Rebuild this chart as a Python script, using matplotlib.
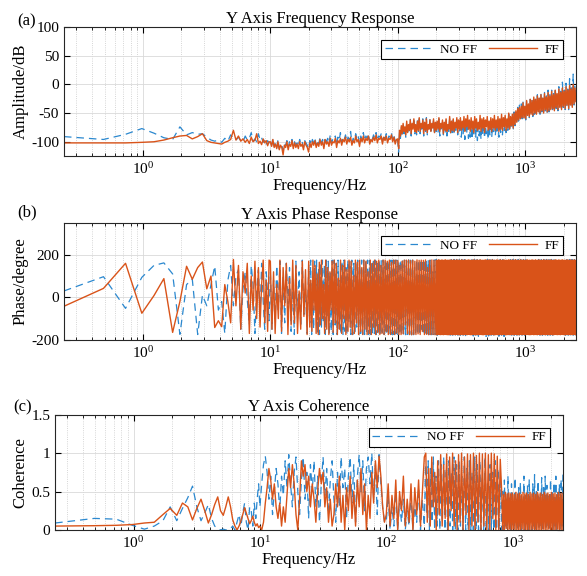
import numpy as np
import matplotlib
matplotlib.use('Agg')
import matplotlib.pyplot as plt

plt.rcParams['font.family'] = ['Liberation Serif', 'DejaVu Serif']
plt.rcParams['mathtext.fontset'] = 'custom'
plt.rcParams['mathtext.rm'] = 'Liberation Serif'
plt.rcParams['mathtext.it'] = 'Liberation Serif:italic'
plt.rcParams['axes.unicode_minus'] = False

# ── Data ─────────────────────────────────────────────────────────────────
# first 40 FFT bins, then denser bands whose values are spread log-evenly
freq_low = [0.24, 0.49, 0.73, 0.98, 1.22, 1.46, 1.71, 1.95, 2.2, 2.44,
            2.69, 2.93, 3.17, 3.42, 3.66, 3.91, 4.15, 4.39, 4.64, 4.88,
            5.13, 5.37, 5.62, 5.86, 6.1, 6.35, 6.59, 6.84, 7.08, 7.32,
            7.57, 7.81, 8.06, 8.3, 8.54, 8.79, 9.03, 9.28, 9.52, 9.77]
band_10_20 = (10, 20)
band_10_100 = (10, 100)
band_20_200 = (20, 200)
band_100_200 = (100, 200)
band_100_2500 = (100, 2500)
band_200_820 = (200, 820)
band_200_2500 = (200, 2500)
band_820_2500 = (820, 2500)

# (a) amplitude, dB
amp_noff_low = [-91, -96, -87, -77, -85, -93, -96, -74, -88, -84,
                -87, -86, -92, -97, -99, -97, -101, -94, -99, -88,
                -94, -97, -92, -98, -100, -90, -97, -94, -84, -99,
                -95, -100, -86, -97, -93, -101, -96, -104, -98, -102]
amp_ff_low = [-102, -102, -102, -101, -100, -97, -93, -90, -89, -95,
              -91, -86, -98, -101, -102, -103, -104, -101, -99, -96,
              -80, -97, -90, -99, -95, -101, -96, -103, -92, -100,
              -97, -86, -103, -99, -105, -95, -102, -98, -107, -100]
amp_noff_mid = [-98, -106, -94, -108, -102, -110, -96, -112, -104, -106,
                -116, -104, -106, -98, -110, -100, -104, -96, -108, -100,
                -106, -102, -108, -96, -104, -100, -110, -98, -102, -106,
                -112, -98, -106, -96, -102, -94, -106, -98, -104, -92,
                -102, -96, -108, -92, -100, -94, -104, -88, -102, -96,
                -98, -90, -106, -92, -98, -84, -102, -92, -96, -88,
                -100, -92, -96, -82, -102, -94, -98, -86, -96, -90,
                -104, -90, -96, -84, -98, -90, -94, -86, -100, -92,
                -96, -88, -94, -84, -98, -90, -92, -86, -100, -88,
                -94, -86, -98, -90, -92, -84, -96, -88, -100, -92]
amp_ff_mid = [-100, -108, -96, -110, -104, -112, -100, -114, -106, -110,
              -123, -106, -110, -100, -114, -104, -108, -98, -112, -102,
              -110, -104, -112, -100, -108, -104, -114, -100, -106, -110,
              -118, -102, -110, -100, -106, -98, -110, -102, -108, -96,
              -106, -100, -112, -96, -104, -100, -108, -94, -106, -100,
              -102, -94, -110, -98, -102, -94, -106, -96, -100, -92,
              -104, -96, -100, -92, -106, -98, -102, -90, -100, -96,
              -108, -94, -100, -90, -102, -94, -98, -90, -104, -96,
              -100, -92, -98, -88, -102, -94, -96, -90, -104, -92,
              -98, -90, -102, -94, -96, -88, -100, -92, -104, -96]
amp_noff_high = [-100, -118, -84, -94, -74, -90, -70, -86, -76, -92,
                 -66, -88, -72, -82, -60, -90, -70, -80, -58, -86,
                 -72, -88, -62, -82, -56, -86, -70, -78, -60, -90,
                 -68, -82, -58, -88, -72, -80, -60, -86, -70, -78,
                 -62, -88, -68, -82, -66, -84, -60, -90, -72, -82,
                 -66, -88, -70, -84, -62, -90, -72, -82, -60, -88,
                 -68, -84, -62, -88, -70, -80, -60, -88, -66, -82,
                 -64, -92, -70, -88, -66, -96, -74, -86, -64, -94,
                 -70, -92, -68, -96, -72, -88, -66, -94, -70, -98,
                 -74, -90, -66, -96, -70, -88, -68, -94, -72, -86,
                 -66, -96, -72, -88, -64, -92, -70, -84, -62, -90,
                 -68, -86, -60, -92, -66, -84, -58, -88, -64, -82,
                 -58, -84, -62, -80, -52, -82, -58, -76, -54, -80,
                 -48, -72, -44, -68, -40, -64, -36, -62, -34, -60,
                 -30, -60, -38, -62, -28, -56, -34, -58, -26, -54,
                 -28, -56, -22, -52, -26, -54, -18, -50, -24, -52,
                 -16, -48, -24, -52, -14, -46, -20, -50, -10, -48,
                 -18, -46, -10, -44, -16, -48, -6, -42, -14, -46,
                 -4, -42, -12, -46, 4, -40, -10, -44, 2, -38,
                 -8, -44, 10, -38, -6, -42, 18, -36, -2, -32]
amp_ff_high = [-95, -112, -80, -90, -72, -86, -68, -82, -74, -88,
               -64, -84, -70, -80, -62, -86, -68, -78, -60, -82,
               -70, -84, -64, -80, -58, -82, -68, -76, -62, -86,
               -66, -80, -60, -84, -70, -78, -62, -82, -68, -76,
               -60, -84, -66, -80, -64, -78, -58, -82, -68, -76,
               -62, -86, -66, -80, -60, -82, -70, -78, -56, -84,
               -64, -80, -60, -82, -66, -76, -58, -84, -62, -78,
               -58, -80, -64, -76, -56, -82, -60, -74, -54, -78,
               -62, -82, -58, -78, -64, -84, -56, -76, -60, -80,
               -66, -78, -54, -82, -60, -76, -58, -84, -62, -74,
               -56, -80, -64, -78, -58, -82, -60, -76, -54, -80,
               -62, -76, -56, -82, -60, -78, -52, -80, -58, -74,
               -54, -80, -60, -76, -50, -78, -56, -72, -52, -76,
               -50, -70, -46, -66, -42, -62, -40, -60, -38, -58,
               -32, -58, -38, -60, -28, -54, -34, -56, -26, -52,
               -28, -54, -22, -50, -26, -52, -20, -48, -24, -50,
               -18, -46, -24, -50, -16, -44, -22, -48, -14, -46,
               -20, -44, -12, -42, -18, -46, -10, -40, -16, -44,
               -8, -40, -14, -44, -6, -38, -12, -42, -4, -36,
               -10, -42, -2, -36, -8, -40, 0, -34, -6, -30]

# (b) phase, degree
phase_noff_low = [30, 97, -52, 94, 150, 162, 110, -174, 60, 85,
                  -175, 10, -40, 60, 147, -60, -20, -170, 80, 150,
                  -40, 100, 130, -150, 40, 120, -10, -130, 150, 60,
                  -170, 30, 130, -90, 160, -20, -150, 120, 20, -110]
phase_ff_low = [-42, 42, 160, -75, 8, 88, -165, -20, 146, 85,
                140, 166, 40, 100, -142, -110, -138, 60, -20, -120,
                178, -40, 150, -150, 120, 20, 160, -170, 100, -60,
                170, -100, 140, -140, 60, 175, -120, 80, -160, 175]
phase_noff_10_20 = [120, -150, 80, -100, 150, -60, 170, -170, 100, -120,
                    160, -30, 140, -160, 60, -175, 170, -100, 120, -140,
                    175, -80, 40, -170]
phase_ff_10_20 = [170, -150, 120, -170, 60, -100, 175, -160, 140, -40,
                  160, -175, 90, -130, 175, -120, 150, -170, 30, -150,
                  170, -90, 130, -175]
phase_noff_20_200 = [150, -120, 175, -175, 90, -150, 170, -60, 175, -170,
                     130, -175, 160, -140, 175, -110, 150, -175, 175, -90,
                     170, -175, 120, -160, 175, -175, 175, -130, 160, -175,
                     175, -150, 80, -175, 170, -175, 175, -160, 140, -175,
                     175, -120, 170, -175, 175, -175, 160, -175, 175, -140,
                     175, -175, 150, -170, 175, -175, 175, -175, 170, -160,
                     175, -175, 175, -175, 165, -175, 175, -170, 175, -175,
                     160, -175, 175, -175, 175, -165, 175, -175, 170, -175,
                     175, -175, 175, -170, 175, -175, 175, -175, 175, -172,
                     175, -175, 170, -175, 175, -175, 176, -175, 175, -176,
                     172, -175, 176, -175, 175, -176, 175, -176, 140, -175,
                     176, -175, 175, -176, 175, -150, 176, -175, 175, -176,
                     175, -176, 176, -175, 175, -176, 120, -175, 176, -175]
phase_ff_20_200 = [170, -140, 80, -160, 175, -60, 150, -170, 110, -175,
                   165, -130, 175, -100, 60, -170, 175, -150, 140, -175,
                   120, -60, 170, -165, 175, -120, 160, -175, 90, -150,
                   175, -170, 150, -100, 175, -175, 130, -160, 175, -140,
                   170, -175, 100, -170, 175, -120, 165, -175, 175, -160,
                   140, -175, 175, -150, 170, -175, 120, -170, 175, -175,
                   160, -140, 175, -175, 170, -165, 175, -175, 150, -170,
                   175, -175, 175, -160, 170, -175, 175, -175, 165, -170,
                   175, -175, 175, -168, 172, -175, 150, -175, 170, -172,
                   175, -130, 175, -170, 175, -175, 172, -176, 175, -174,
                   170, -175, 176, -172, 174, -175, 175, -160, 174, -175,
                   176, -174, 140, -176, 174, -175, 176, -175, 174, -176]
phase_noff_high = [178, -178, 177, -178, 178, -177, 178, -178, 177, -178,
                   178, -178, 177, -178, 178, -177, 178, -178, 177, -178,
                   178, -178, 177, -180, 178, -182, 178, -178, 177, -182,
                   178, -178, 177, -183, 178, -180, 178, -178, 177, -184,
                   178, -182, 177, -178, 178, -184, 178, -180, 177, -183,
                   178, -178, 177, -184, 178, -180, 178, -182, 177, -178,
                   178, -178, 177, -178, 178, -177, 178, -178, 177, -178,
                   178, -178, 177, -178, 178, -177, 178, -178, 177, -178,
                   178, -178, 177, -178, 178, -177, 178, -178, 177, -178,
                   178, -178, 177, -178, 178, -177, 178, -178, 177, -178,
                   178, -178, 177, -178, 178, -177, 178, -178, 177, -178]
phase_ff_high = [175, -176, 174, -175, 176, -174, 175, -176, 174, -175,
                 176, -175, 174, -176, 175, -174, 176, -175, 174, -176,
                 175, -176, 174, -175, 176, -174, 175, -176, 174, -175,
                 176, -175, 174, -176, 175, -174, 176, -175, 174, -176,
                 175, -176, 174, -175, 176, -174, 175, -176, 174, -175,
                 176, -175, 174, -176, 175, -174, 176, -175, 174, -176,
                 175, -176, 174, -175, 176, -174, 175, -176, 174, -175,
                 176, -175, 174, -176, 175, -174, 176, -175, 174, -176,
                 175, -176, 174, -175, 176, -174, 175, -176, 174, -175,
                 176, -175, 174, -176, 175, -174, 176, -175, 174, -176,
                 175, -176, 174, -175, 176, -174, 175, -176, 174, -175,
                 176, -175, 174, -176, 175, -174, 176, -175, 174, -176,
                 175, -176, 174, -175, 176, -174, 175, -176, 174, -175,
                 176, -175, 174, -176, 175, -174, 176, -175, 174, -176,
                 175, -176, 174, -175, 176, -174, 175, -176, 174, -175,
                 176, -175, 174, -176, 175, -174, 176, -175, 174, -176,
                 175, -176, 174, -175, 176, -174, 175, -176, 174, -175,
                 176, -175, 174, -176, 175, -174, 176, -175, 174, -176,
                 175, -176, 174, -175, 176, -174, 175, -176, 174, -175,
                 176, -175, 174, -176, 175, -174, 176, -175, 174, -176,
                 175, -176, 174, -175, 176, -174, 175, -176, 174, -175,
                 176, -175, 174, -176, 175, -174, 176, -175, 174, -176,
                 175, -176, 174, -175, 176, -174, 175, -176, 174, -175,
                 176, -175, 174, -176, 175, -174, 176, -175, 174, -176]

# (c) coherence
coh_noff_low = [0.09, 0.15, 0.14, 0.06, 0.01, 0.05, 0.12, 0.30, 0.12, 0.28,
                0.42, 0.57, 0.30, 0.12, 0.22, 0.33, 0.15, 0.05, 0.02, 0.00,
                0.01, 0.00, 0.00, 0.02, 0.05, 0.00, 0.10, 0.20, 0.05, 0.22,
                0.35, 0.10, 0.00, 0.30, 0.25, 0.05, 0.35, 0.15, 0.40, 0.60]
coh_ff_low = [0.05, 0.055, 0.06, 0.07, 0.09, 0.10, 0.20, 0.28, 0.19, 0.35,
              0.30, 0.13, 0.28, 0.40, 0.25, 0.09, 0.20, 0.33, 0.43, 0.25,
              0.19, 0.30, 0.43, 0.30, 0.13, 0.05, 0.00, 0.05, 0.12, 0.20,
              0.29, 0.22, 0.15, 0.08, 0.12, 0.18, 0.10, 0.05, 0.08, 0.03]
coh_noff_mid = [0.30, 0.60, 0.85, 0.96, 0.75, 0.40, 0.70, 0.20, 0.50, 0.80,
                0.60, 0.25, 0.70, 0.45, 0.90, 0.55, 0.98, 0.60, 0.30, 0.75,
                0.95, 0.50, 0.20, 0.65, 0.95, 0.40, 0.75, 0.15, 0.85, 0.50,
                0.90, 0.30, 0.70, 0.10, 0.60, 0.95, 0.45, 0.80, 0.20, 0.65,
                0.90, 0.40, 0.10, 0.75, 0.30, 0.95, 0.55, 0.80, 0.15, 0.70,
                0.95, 0.35, 0.85, 0.10, 0.70, 0.98, 0.50, 0.90, 0.25, 0.80,
                0.95, 0.60, 1.00, 0.40, 0.85, 0.20, 0.98, 0.60, 0.30, 0.10]
coh_ff_mid = [0.05, 0.00, 0.10, 0.35, 0.55, 0.80, 0.65, 0.40, 0.60, 0.30,
              0.15, 0.35, 0.05, 0.30, 0.10, 0.45, 0.80, 0.55, 0.85, 0.60,
              0.20, 0.00, 0.40, 0.90, 0.70, 0.85, 0.50, 0.70, 0.30, 0.60,
              0.40, 0.10, 0.50, 0.80, 0.60, 0.75, 0.30, 0.55, 0.10, 0.40,
              0.05, 0.20, 0.60, 0.30, 0.70, 0.10, 0.45, 0.00, 0.55, 0.25,
              0.70, 0.15, 0.50, 0.05, 0.65, 0.30, 0.80, 0.20, 0.60, 0.00,
              0.45, 0.15, 0.75, 0.35, 0.90, 0.55, 0.96, 0.70, 0.30, 0.10]
coh_noff_b1 = [0.10, 0.45, 0.00, 0.30, 0.05, 0.50, 0.00, 0.35, 0.10, 0.40,
               0.00, 0.25, 0.05, 0.45, 0.00, 0.30, 0.10, 0.55, 0.00, 0.40]
coh_ff_b1 = [0.20, 0.60, 0.05, 0.45, 0.15, 0.65, 0.00, 0.50, 0.25, 0.70,
             0.05, 0.40, 0.10, 0.60, 0.00, 0.55, 0.20, 0.65, 0.05, 0.50]
coh_noff_b2 = [0.05, 0.85, 0.20, 0.90, 0.00, 0.80, 0.10, 0.95, 0.00, 0.70,
               0.05, 0.90, 0.00, 0.85, 0.10, 0.95, 0.00, 0.80, 0.00, 0.90,
               0.05, 0.75, 0.00, 0.95, 0.00, 0.85, 0.00, 0.90, 0.05, 0.70,
               0.00, 0.95, 0.00, 0.80, 0.00, 0.90, 0.00, 0.75, 0.00, 0.95,
               0.00, 0.85, 0.00, 0.90, 0.00, 0.70, 0.00, 0.95, 0.00, 0.60,
               0.00, 0.85, 0.00, 0.75, 0.00, 0.90, 0.00, 0.80, 0.00, 0.70]
coh_ff_b2 = [0.95, 1.00, 0.10, 0.80, 0.05, 0.95, 0.30, 0.75, 0.00, 0.90,
             0.20, 0.98, 0.05, 0.85, 0.15, 0.99, 0.00, 0.95, 0.25, 1.00,
             0.05, 0.90, 0.00, 0.98, 0.10, 1.00, 0.00, 0.95, 0.20, 0.99,
             0.00, 0.98, 0.05, 1.00, 0.00, 0.97, 0.10, 1.00, 0.00, 0.99,
             0.05, 1.00, 0.00, 0.98, 0.00, 1.00, 0.15, 0.99, 0.00, 0.96,
             0.00, 0.92]
coh_noff_b3 = [0.00, 0.50, 0.00, 0.65, 0.05, 0.40, 0.00, 0.70, 0.10, 0.45,
               0.00, 0.60, 0.05, 0.35, 0.00, 0.68, 0.10, 0.40, 0.00, 0.55,
               0.05, 0.62, 0.00, 0.38, 0.10, 0.70, 0.00, 0.45, 0.05, 0.58,
               0.00, 0.66, 0.10, 0.40, 0.00, 0.60, 0.05, 0.72, 0.00, 0.50,
               0.10, 0.64, 0.00, 0.42, 0.05, 0.68, 0.00, 0.55, 0.10, 0.70,
               0.00, 0.58, 0.05, 0.44, 0.00, 0.66, 0.10, 0.52, 0.00, 0.62,
               0.05, 0.70, 0.00, 0.48, 0.10, 0.60, 0.00, 0.66, 0.05, 0.72]
coh_ff_b3 = [0.48, 0.00, 0.46, 0.00, 0.49, 0.02, 0.47, 0.00, 0.48, 0.01,
             0.47, 0.00, 0.48, 0.01, 0.46, 0.00, 0.49, 0.00, 0.47, 0.00,
             0.48, 0.00, 0.46, 0.01, 0.49, 0.00, 0.47, 0.00, 0.48, 0.00,
             0.46, 0.00, 0.49, 0.00, 0.47, 0.01, 0.48, 0.00, 0.46, 0.00,
             0.49, 0.00, 0.47, 0.00, 0.48, 0.00, 0.46, 0.01, 0.49, 0.00,
             0.47, 0.00, 0.48, 0.01, 0.46, 0.00, 0.49, 0.00, 0.47, 0.00,
             0.48, 0.00, 0.46, 0.01, 0.49, 0.00, 0.47, 0.00, 0.48, 0.00]

BLUE = '#2b88cf'
ORANGE = '#D95319'


def build(low, segments):
    # low bins on freq_low, then each (band, values) spread log-evenly in its band
    fs, ys = [np.array(freq_low)], [np.array(low)]
    for k, (band, vals) in enumerate(segments):
        last = k == len(segments) - 1
        fs.append(np.geomspace(band[0], band[1], len(vals), endpoint=last))
        ys.append(np.array(vals))
    return np.concatenate(fs), np.concatenate(ys)


def style_axes(ax, title, ylabel, ylim, yticks):
    ax.set_xscale('log')
    ax.set_xlim(0.24, 2500)
    ax.set_ylim(*ylim)
    ax.set_yticks(yticks)
    ax.set_title(title, fontsize=12, pad=3)
    ax.set_xlabel('Frequency/Hz', fontsize=12, labelpad=1)
    ax.set_ylabel(ylabel, fontsize=12, labelpad=2)
    ax.tick_params(which='both', direction='in', top=True, right=True, labelsize=11)
    ax.tick_params(which='major', length=4)
    ax.tick_params(which='minor', length=2)
    ax.grid(True, which='major', color='#d9d9d9', lw=0.6)
    ax.grid(True, which='minor', axis='x', color='#c8c8c8', lw=0.6, ls=':')
    ax.set_axisbelow(True)
    for s in ax.spines.values():
        s.set_color('#262626')
        s.set_linewidth(0.8)
    leg = ax.legend(loc='upper right', ncol=2, fontsize=9.5, frameon=True, fancybox=False,
                    edgecolor='black', framealpha=1, handlelength=3.6, handletextpad=0.6,
                    columnspacing=0.9, borderpad=0.25, borderaxespad=1.0)
    leg.get_frame().set_linewidth(0.8)


fig = plt.figure(figsize=(5.87, 5.76), dpi=100)
ax_a = fig.add_axes([0.109, 0.729, 0.872, 0.224])
ax_b = fig.add_axes([0.109, 0.410, 0.872, 0.203])
ax_c = fig.add_axes([0.094, 0.080, 0.865, 0.200])

panels = [
    (ax_a,
     build(amp_noff_low, [(band_10_100, amp_noff_mid), (band_100_2500, amp_noff_high)]),
     build(amp_ff_low, [(band_10_100, amp_ff_mid), (band_100_2500, amp_ff_high)]),
     'Y Axis Frequency Response', 'Amplitude/dB', (-125, 100), [-100, -50, 0, 50, 100]),
    (ax_b,
     build(phase_noff_low, [(band_10_20, phase_noff_10_20), (band_20_200, phase_noff_20_200),
                            (band_200_2500, phase_noff_high)]),
     build(phase_ff_low, [(band_10_20, phase_ff_10_20), (band_20_200, phase_ff_20_200),
                          (band_200_2500, phase_ff_high)]),
     'Y Axis Phase Response', 'Phase/degree', (-200, 350), [-200, 0, 200]),
    (ax_c,
     build(coh_noff_low, [(band_10_100, coh_noff_mid), (band_100_200, coh_noff_b1),
                          (band_200_820, coh_noff_b2), (band_820_2500, coh_noff_b3)]),
     build(coh_ff_low, [(band_10_100, coh_ff_mid), (band_100_200, coh_ff_b1),
                        (band_200_820, coh_ff_b2), (band_820_2500, coh_ff_b3)]),
     'Y Axis Coherence', 'Coherence', (0, 1.5), [0, 0.5, 1, 1.5]),
]

for ax, (f1, y1), (f2, y2), title, ylabel, ylim, yticks in panels:
    ax.plot(f1, y1, color=BLUE, lw=0.9, dashes=(6, 4), label='NO FF')
    ax.plot(f2, y2, color=ORANGE, lw=1.0, label='FF')
    style_axes(ax, title, ylabel, ylim, yticks)

ax_c.set_yticklabels(['0', '0.5', '1', '1.5'])

fig.text(0.029, 0.962, '(a)', fontsize=12, ha='left', va='center')
fig.text(0.029, 0.632, '(b)', fontsize=12, ha='left', va='center')
fig.text(0.022, 0.292, '(c)', fontsize=12, ha='left', va='center')

fig.savefig('out.png', dpi=100)
